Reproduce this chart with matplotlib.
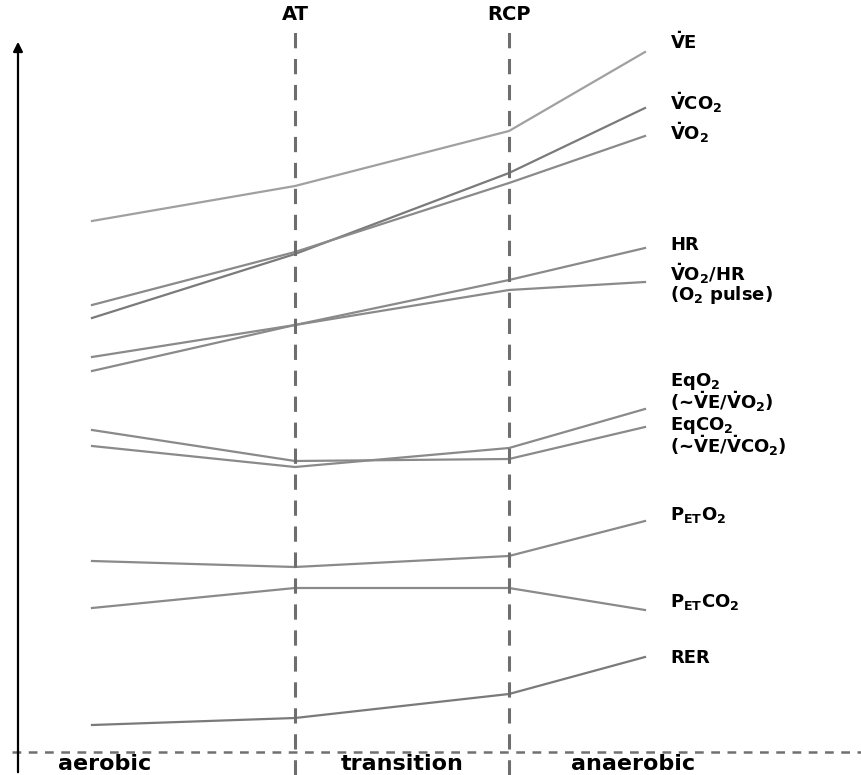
import matplotlib
matplotlib.use("Agg")
import matplotlib.pyplot as plt

plt.rcParams['font.family'] = ['DejaVu Sans']
plt.rcParams['mathtext.fontset'] = 'dejavusans'
plt.rcParams['mathtext.default'] = 'bf'

# exercise intensity points: start, AT, RCP, end
stages = [9.2, 29.5, 50.9, 64.5]
at_x = 29.5
rcp_x = 50.9

ve = [53.1, 56.6, 62.1, 70.0]
vco2 = [43.4, 49.8, 57.9, 64.4]
vo2 = [44.7, 50.0, 56.9, 61.6]
hr = [39.5, 42.7, 47.2, 50.4]
o2_pulse = [38.1, 42.7, 46.2, 47.0]
eqo2 = [30.6, 28.5, 30.4, 34.3]
eqco2 = [32.2, 29.1, 29.3, 32.5]
peto2 = [19.1, 18.5, 19.6, 23.1]
petco2 = [14.4, 16.4, 16.4, 14.2]
rer = [2.7, 3.4, 5.8, 9.5]

series = [ve, vco2, vo2, hr, o2_pulse, eqo2, eqco2, peto2, petco2, rer]
colors = ['#a0a0a0', '#7a7a7a', '#8a8a8a', '#8a8a8a', '#8a8a8a',
          '#8a8a8a', '#8a8a8a', '#8a8a8a', '#8a8a8a', '#7a7a7a']

V = r'$\dot{\mathbf{V}}$'
label_texts = [V + 'E', V + 'CO$_2$', V + 'O$_2$', 'HR',
               V + 'O$_2$/HR\n(O$_2$ pulse)',
               'EqO$_2$\n(~' + V + 'E/' + V + 'O$_2$)',
               'EqCO$_2$\n(~' + V + 'E/' + V + 'CO$_2$)',
               'P$_{ET}$O$_2$', 'P$_{ET}$CO$_2$', 'RER']
label_y = [71.0, 64.9, 61.9, 50.7, 46.8, 35.95, 31.55, 23.7, 15.0, 9.4]

phases = ['aerobic', 'transition', 'anaerobic']
phase_x = [10.5, 40.2, 63.3]

fig = plt.figure(figsize=(8.62, 7.75), dpi=100)
ax = fig.add_axes([0, 0, 1, 1])
ax.set_xlim(0, 86.2)
ax.set_ylim(-2.3, 75.2)
ax.axis('off')

for s, c in zip(series, colors):
    ax.plot(stages, s, color=c, lw=1.6)

# threshold lines
for xv, name in [(at_x, 'AT'), (rcp_x, 'RCP')]:
    ax.plot([xv, xv], [-2.3, 72.8], color='#6e6e6e', lw=2.2,
            dashes=(5, 3.5))
    ax.text(xv, 73.8, name, ha='center', va='center', fontsize=14,
            fontweight='bold')

# baseline
ax.plot([1.2, 86.2], [0, 0], color='#707070', lw=1.8, dashes=(3.5, 3))

# y axis arrow
ax.annotate('', xy=(1.8, 71.3), xytext=(1.8, -2.3),
            arrowprops=dict(arrowstyle='-|>', color='black', lw=1.6,
                            mutation_scale=14))

for t, y in zip(label_texts, label_y):
    ax.text(67.0, y, t, ha='left', va='center', fontsize=13,
            fontweight='bold', linespacing=0.9)

for p, x in zip(phases, phase_x):
    ax.text(x, -1.2, p, ha='center', va='center', fontsize=16,
            fontweight='bold')

fig.savefig('out.png', dpi=100)
